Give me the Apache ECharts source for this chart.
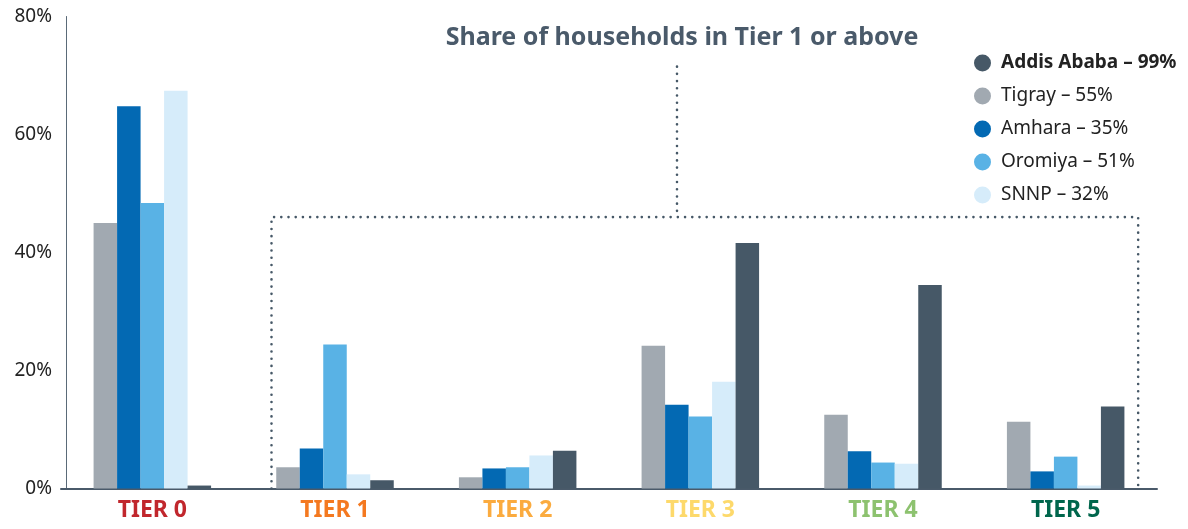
<!DOCTYPE html>
<html>
<head>
<meta charset="utf-8">
<script src="https://cdn.jsdelivr.net/npm/echarts@6/dist/echarts.min.js"></script>
<style>
  html, body { margin: 0; padding: 0; background: #fff; }
  #chart { width: 1188px; height: 529px; }
</style>
</head>
<body>
<div id="chart"></div>
<script>
// Data (percent of households per tier)
const tiers = ['TIER 0', 'TIER 1', 'TIER 2', 'TIER 3', 'TIER 4', 'TIER 5'];
const tigray = [45.0, 3.6, 1.9, 24.2, 12.5, 11.3];
const amhara = [64.8, 6.8, 3.4, 14.2, 6.3, 2.9];
const oromiya = [48.4, 24.4, 3.6, 12.2, 4.4, 5.4];
const snnp = [67.4, 2.4, 5.6, 18.1, 4.2, 0.5];
const addisAbaba = [0.5, 1.4, 6.4, 41.6, 34.5, 13.9];

// Share of households in Tier 1 or above (legend text)
const regions = ['Addis Ababa', 'Tigray', 'Amhara', 'Oromiya', 'SNNP'];
const tier1Share = [99, 55, 35, 51, 32];

const tierColors = ['#c1272d', '#f47920', '#fbab3f', '#fdd96b', '#8dc26f', '#00664c'];
const slate = '#465867';
const font = 'Noto Sans';

const legendName = i => `${regions[i]} – ${tier1Share[i]}%`;

let chart;

function setupChart() {
    chart = echarts.init(document.getElementById('chart'));

    const bar = (idx, values, color) => ({
        name: legendName(idx),
        type: 'bar',
        data: values,
        barWidth: 23.5,
        barGap: '0%',
        itemStyle: { color: color },
        emphasis: { disabled: true }
    });

    const option = {
        animation: false,
        textStyle: { fontFamily: font },
        title: {
            text: 'Share of households in Tier 1 or above',
            left: 677,
            top: 20,
            textAlign: 'center',
            textStyle: { fontFamily: font, fontSize: 25, fontWeight: 'bold', color: '#4a5a6a' }
        },
        legend: {
            orient: 'vertical',
            left: 969,
            top: 48,
            icon: 'circle',
            itemWidth: 17,
            itemHeight: 17,
            itemGap: 13,
            textStyle: { fontFamily: font, fontSize: 19, color: '#222', lineHeight: 20, padding: [0, 0, 0, 5] },
            data: regions.map((r, i) => i === 0
                ? { name: legendName(i), textStyle: { fontWeight: 'bold' } }
                : { name: legendName(i) })
        },
        grid: { left: 61, right: 31, top: 16.5, bottom: 40.5 },
        xAxis: {
            type: 'category',
            data: tiers.map((t, i) => ({ value: t, textStyle: { color: tierColors[i] } })),
            axisLine: { lineStyle: { color: '#4a5a6a', width: 2 } },
            axisTick: { show: false },
            axisLabel: { fontFamily: font, fontSize: 23, fontWeight: 'bold', margin: 10 }
        },
        yAxis: {
            type: 'value',
            min: 0,
            max: 80,
            interval: 20,
            offset: -5,
            axisLine: { show: true, lineStyle: { color: '#5a6a78', width: 1 } },
            axisTick: { show: false },
            splitLine: { show: false },
            axisLabel: { formatter: '{value}%', fontFamily: font, fontSize: 19, color: '#222', margin: 14 }
        },
        series: [
            bar(1, tigray, '#a1a9b1'),
            bar(2, amhara, '#0369b3'),
            bar(3, oromiya, '#59b2e5'),
            bar(4, snnp, '#d6ecfa'),
            bar(0, addisAbaba, slate)
        ]
    };

    chart.setOption(option);
    drawTierBox();
}

// Dotted box around tiers 1-5 plus the leader line to the title
function drawTierBox() {
    const left = chart.convertToPixel({ xAxisIndex: 0 }, 'TIER 1') - 63.5;
    const right = chart.convertToPixel({ xAxisIndex: 0 }, 'TIER 5') + 72.5;
    const top = chart.convertToPixel({ yAxisIndex: 0 }, 46);
    const bottom = chart.convertToPixel({ yAxisIndex: 0 }, 0);
    const leadX = 677;
    const leadTop = chart.convertToPixel({ yAxisIndex: 0 }, 71.5);

    const dotted = { stroke: slate, lineWidth: 2.6, lineDash: [0.01, 7.2], lineCap: 'round', fill: null };

    chart.setOption({
        graphic: [
            { type: 'polyline', silent: true, z: 10,
              shape: { points: [[left, bottom], [left, top], [right, top], [right, bottom]] },
              style: dotted },
            { type: 'line', silent: true, z: 10,
              shape: { x1: leadX, y1: leadTop, x2: leadX, y2: top },
              style: dotted }
        ]
    });
}

window.addEventListener('resize', () => {
    chart?.resize();
});

setupChart();
</script>
</body>
</html>
